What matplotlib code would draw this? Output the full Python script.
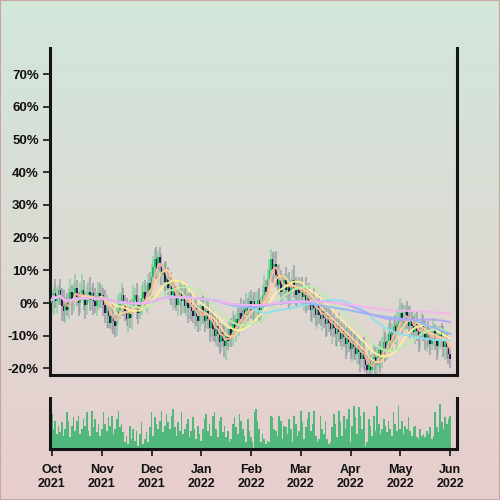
import numpy as np
import pandas as pd
import matplotlib
matplotlib.use("Agg")
import matplotlib.pyplot as plt
from matplotlib.colors import LinearSegmentedColormap

# ---- data (percent change of price, one bar per day) ----
close_oct = [1.0, 3.0, 0.5, 2.5, 4.0, 1.5, -1.0, -2.5, 0.0, -2.0, 1.0, 3.5, 1.0, 3.0, 4.5, 2.0, 0.0, 2.5, 4.0, 1.5,
             -0.5, 2.0, 3.5, 1.0, 3.0, 0.5, -1.0, 1.5, 3.0, 0.5]
close_nov = [2.5, -0.5, -3.0, -1.0, -4.0, -6.0, -3.5, -5.5, -7.0, -4.5, -2.0, 0.5, 2.5, -0.5, -2.5, -5.0, -2.5, -4.5, -1.5, 1.0,
             2.5, -0.5, -3.0, -0.5, 1.5, 3.5, 1.0, 3.5, 6.0, 4.0]
close_dec = [8.0, 11.0, 13.5, 10.5, 14.0, 11.5, 8.5, 10.0, 6.5, 8.0, 4.5, 6.0, 2.5, 4.5, 1.5, -0.5, 2.0, 3.5, 0.5, 2.5,
             -1.0, 1.0, -1.5, 0.5, -2.5, -4.0, -1.5, -4.0, -5.5, -3.0]
close_jan = [-1.0, -3.5, -5.5, -2.5, -5.0, -7.5, -5.0, -8.0, -10.0, -7.0, -9.5, -12.0, -9.0, -11.5, -13.0, -10.0, -11.5, -8.0, -10.0, -6.5,
             -8.0, -5.0, -6.5, -3.0, -5.0, -2.0, -3.5, -0.5, -2.5, 0.5]
close_feb = [-2.0, 0.5, -2.5, -0.5, 1.0, -2.0, 0.0, 2.5, 5.0, 3.5, 7.5, 10.0, 13.5, 10.5, 12.0, 8.5, 5.5, 7.0, 3.5, 5.5,
             7.0, 4.0, 6.0, 3.0, 5.5, 7.0, 4.5, 2.5, 5.0, 3.0]
close_mar = [4.5, 2.0, 3.5, 0.5, 2.5, 0.0, -2.0, 0.5, -1.5, -3.5, -1.0, -3.5, -5.0, -2.5, -4.5, -6.5, -4.0, -6.0, -8.0, -5.5,
             -7.5, -9.5, -7.0, -9.0, -11.0, -8.5, -10.5, -12.5, -10.0, -12.0]
close_apr = [-14.0, -11.5, -13.5, -15.5, -13.0, -15.0, -17.0, -14.5, -17.0, -19.0, -20.5, -18.0, -20.5, -18.5, -16.5, -19.0, -16.5, -14.5, -17.0, -14.0,
             -12.0, -14.5, -11.5, -9.5, -12.0, -9.0, -7.0, -9.5, -6.5, -4.5]
close_may = [-3.0, -6.0, -4.0, -2.5, -5.0, -7.0, -4.5, -7.0, -9.0, -6.5, -8.5, -10.5, -8.0, -6.5, -9.5, -11.0, -8.5, -10.5, -12.5, -10.0,
             -8.5, -11.0, -13.0, -10.5, -9.0, -11.5, -13.5, -11.0, -13.5, -15.5]
close_jun = [-17.0]

upper_wick = [
    3.0, 2.0, 4.5, 2.5, 1.5, 3.5, 3.0, 5.0, 2.0, 3.0, 3.5, 4.0, 2.0, 3.0, 4.5, 2.5, 1.5, 3.5, 5.0, 3.0, 2.0, 3.5, 3.0, 4.5, 2.0, 3.0, 4.0, 2.0, 3.5, 3.0,
    3.0, 2.0, 4.5, 3.5, 2.0, 3.0, 4.0, 3.0, 2.0, 3.5, 4.5, 3.0, 3.5, 2.0, 3.0, 4.0, 2.0, 3.5, 3.0, 4.5, 2.0, 3.5, 3.0, 2.0, 4.0, 3.0, 3.5, 2.0, 3.0, 3.5,
    4.0, 3.5, 3.0, 3.5, 2.0, 3.0, 3.5, 2.0, 3.0, 4.5, 3.0, 2.0, 3.5, 3.0, 2.0, 4.0, 3.0, 3.5, 2.0, 3.0, 3.5, 4.5, 2.0, 3.0, 3.5, 2.0, 4.0, 3.0, 3.5, 2.0,
    3.0, 3.5, 2.0, 4.5, 3.0, 2.0, 3.5, 3.0, 4.0, 2.0, 3.0, 3.5, 2.0, 3.0, 4.5, 3.5, 2.0, 3.0, 3.5, 4.0, 3.0, 2.0, 3.5, 3.0, 4.5, 2.0, 3.0, 3.5, 2.0, 3.0,
    3.5, 2.0, 3.0, 4.0, 3.0, 3.5, 2.0, 3.0, 3.5, 2.0, 3.0, 3.5, 3.0, 2.0, 3.5, 4.0, 3.0, 5.0, 3.0, 3.5, 2.0, 4.0, 3.0, 3.5, 2.0, 3.0, 4.5, 3.5, 2.0, 3.0,
    3.0, 3.5, 2.0, 4.5, 3.0, 3.5, 2.0, 3.0, 4.5, 3.0, 2.0, 3.5, 3.0, 4.0, 2.0, 3.0, 3.5, 3.0, 4.5, 2.0, 3.5, 3.0, 2.0, 4.0, 3.0, 3.5, 2.0, 3.0, 3.5, 3.0,
    3.5, 3.0, 2.0, 4.5, 3.0, 2.0, 3.5, 3.0, 4.0, 2.0, 3.0, 3.5, 2.0, 3.0, 4.5, 3.0, 3.5, 2.0, 3.0, 3.5, 4.0, 3.0, 2.0, 3.5, 5.0, 3.0, 2.0, 3.5, 4.5, 3.0,
    4.5, 3.0, 3.5, 2.0, 3.0, 4.0, 3.5, 2.0, 3.0, 3.5, 4.0, 2.0, 3.0, 3.5, 3.0, 4.5, 2.0, 3.0, 3.5, 3.0, 4.0, 2.0, 3.0, 3.5, 2.0, 3.0, 4.5, 3.0, 2.0, 3.0,
    2.0]
lower_wick = [
    3.0, 4.5, 2.0, 3.5, 3.0, 2.0, 4.5, 3.0, 3.5, 2.0, 3.0, 2.0, 4.5, 3.5, 2.0, 3.0, 4.0, 3.0, 2.0, 3.5, 4.5, 3.0, 2.0, 3.5, 3.0, 4.0, 2.0, 3.0, 3.5, 2.0,
    2.0, 3.5, 3.0, 4.5, 3.5, 2.0, 3.0, 4.0, 3.5, 3.0, 2.0, 3.0, 4.5, 3.5, 3.0, 2.0, 4.0, 3.0, 3.5, 2.0, 3.0, 4.5, 3.5, 2.0, 3.0, 3.5, 2.0, 4.0, 3.0, 2.0,
    3.0, 2.0, 3.5, 3.0, 4.5, 2.0, 3.0, 3.5, 4.0, 3.0, 2.0, 3.5, 3.0, 4.5, 3.0, 2.0, 3.5, 3.0, 4.0, 3.5, 2.0, 3.0, 4.5, 3.5, 3.0, 2.0, 4.0, 3.0, 3.5, 3.0,
    4.0, 3.0, 3.5, 2.0, 3.0, 4.5, 3.0, 3.5, 2.0, 3.0, 4.0, 3.5, 3.0, 2.0, 3.5, 4.5, 3.0, 2.0, 3.5, 3.0, 2.0, 4.0, 3.0, 3.5, 2.0, 3.0, 3.5, 4.5, 3.0, 2.0,
    3.0, 4.5, 3.5, 2.0, 3.0, 3.5, 4.0, 3.0, 2.0, 3.5, 3.0, 2.0, 3.5, 4.5, 3.0, 3.5, 2.0, 3.0, 4.0, 3.0, 3.5, 2.0, 3.0, 4.5, 3.5, 2.0, 3.0, 3.5, 4.0, 3.0,
    2.0, 3.0, 4.5, 3.5, 3.0, 2.0, 3.5, 4.0, 3.0, 3.5, 4.5, 3.0, 2.0, 3.5, 3.0, 4.0, 3.5, 3.0, 2.0, 4.5, 3.0, 3.5, 4.0, 3.0, 2.0, 3.5, 3.0, 4.5, 3.5, 3.0,
    3.0, 4.0, 3.5, 2.0, 3.0, 3.5, 4.0, 3.0, 3.5, 2.0, 3.0, 4.5, 3.0, 3.5, 2.0, 4.0, 3.0, 3.5, 4.5, 3.0, 2.0, 3.5, 3.0, 4.0, 2.0, 3.0, 3.5, 3.0, 4.5, 3.5,
    3.0, 3.5, 2.0, 4.5, 3.0, 3.5, 4.0, 3.0, 2.0, 3.5, 3.0, 4.5, 3.5, 3.0, 2.0, 3.5, 4.0, 3.0, 3.5, 2.0, 3.0, 3.5, 4.5, 3.0, 3.5, 2.0, 3.0, 4.0, 3.5, 3.0,
    3.0]

volume = [
    105, 60, 85, 45, 70, 50, 80, 40, 60, 110, 85, 35, 70, 95, 55, 85, 100, 45, 60, 90, 70, 110, 55, 40, 115, 65, 90, 50, 75, 40,
    60, 110, 75, 55, 95, 70, 100, 45, 60, 90, 115, 65, 75, 50, 20, 40, 15, 70, 30, 60, 25, 55, 10, 45, 80, 15, 30, 50, 20, 65,
    110, 40, 95, 75, 60, 85, 115, 50, 70, 105, 80, 60, 100, 120, 65, 40, 80, 55, 110, 45, 60, 75, 90, 35, 55, 95, 60, 30, 70, 45,
    25, 60, 90, 105, 55, 75, 40, 100, 110, 60, 35, 85, 95, 50, 70, 35, 55, 20, 30, 75, 95, 65, 45, 105, 85, 60, 40, 20, 90, 55,
    35, 20, 110, 120, 85, 60, 20, 45, 30, 15, 25, 20, 100, 95, 60, 55, 40, 100, 85, 30, 70, 65, 45, 90, 60, 20, 100, 75, 40, 55,
    115, 80, 30, 65, 90, 110, 55, 75, 115, 40, 20, 30, 100, 60, 45, 85, 30, 15, 20, 65, 105, 75, 35, 115, 80, 40, 100, 60, 90, 120,
    20, 70, 130, 95, 45, 125, 100, 60, 110, 10, 20, 90, 70, 40, 100, 55, 130, 75, 45, 60, 90, 70, 50, 85, 60, 40, 110, 75, 55, 130,
    60, 85, 45, 70, 60, 95, 55, 40, 65, 70, 35, 30, 60, 40, 45, 35, 55, 45, 65, 30, 40, 110, 65, 50, 135, 80, 60, 95, 75, 90,
    100]

month_labels = ["Oct\n2021", "Nov\n2021", "Dec\n2021", "Jan\n2022", "Feb\n2022",
                "Mar\n2022", "Apr\n2022", "May\n2022", "Jun\n2022"]
month_tick_pos = [0, 30, 60, 90, 120, 150, 180, 210, 240]
y_ticks = [-20, -10, 0, 10, 20, 30, 40, 50, 60, 70]

ma_windows = [5, 10, 20, 30, 60, 90, 120, 250]
ma_colors = ["#ffb4a2", "#ffd29a", "#fff09a", "#bdeeaa", "#8fe0f0", "#90b8f5", "#b4a6f5", "#f7b4ef"]

# ---- build OHLC ----
close = np.array(close_oct + close_nov + close_dec + close_jan + close_feb +
                 close_mar + close_apr + close_may + close_jun, dtype=float)
n = len(close)
x = np.arange(n)
open_ = np.concatenate([[0.0], close[:-1]])
high = np.maximum(open_, close) + np.array(upper_wick[:n])
low = np.minimum(open_, close) - np.array(lower_wick[:n])
up = close >= open_

plt.rcParams["font.family"] = ["Liberation Sans", "DejaVu Sans"]

fig = plt.figure(figsize=(5, 5), dpi=100)

# background gradient
bg = fig.add_axes([0, 0, 1, 1], zorder=-10)
grad = np.linspace(0, 1, 256).reshape(-1, 1)
cmap = LinearSegmentedColormap.from_list("bg", ["#d2e7da", "#dcdbd4", "#e8cdcd"])
bg.imshow(grad, aspect="auto", cmap=cmap, extent=[0, 1, 0, 1])
bg.axis("off")

spine_c = "#141414"
spine_w = 2.2

# ---- price panel ----
ax = fig.add_axes([0.1, 0.25, 0.814, 0.654])
ax.patch.set_alpha(0)

ax.vlines(x[up], low[up], high[up], color="#74cc96", lw=1.3, alpha=0.65, zorder=2)
ax.vlines(x[~up], low[~up], high[~up], color="#8c899c", lw=1.3, alpha=0.65, zorder=2)
body = close - open_
ax.bar(x[up], body[up], bottom=open_[up], width=0.9, color="#1fbe5c", zorder=3, linewidth=0)
ax.bar(x[~up], body[~up], bottom=open_[~up], width=0.9, color="#2a1d4c", zorder=3, linewidth=0)

s = pd.Series(close)
for w, col in zip(ma_windows, ma_colors):
    ax.plot(x, s.rolling(w, min_periods=1).mean(), color=col, lw=1.4, alpha=0.95, zorder=4)

ax.set_xlim(-1.2, 244.2)
ax.set_ylim(-22, 78)
ax.set_yticks(y_ticks)
ax.set_yticklabels([f"{v}%" for v in y_ticks], fontsize=9.5, fontweight="bold", color="#111111")
ax.set_xticks([])
ax.tick_params(axis="y", direction="out", length=5, width=1.2, pad=3, color=spine_c)
for side in ["left", "right", "bottom"]:
    ax.spines[side].set_linewidth(spine_w)
    ax.spines[side].set_color(spine_c)
ax.spines["top"].set_visible(False)

# ---- volume panel ----
axv = fig.add_axes([0.1, 0.102, 0.814, 0.102])
axv.patch.set_alpha(0)
axv.bar(x, volume[:n], width=1.0, color="#4fb87a", linewidth=0)
axv.set_xlim(-1.2, 244.2)
axv.set_ylim(0, 153)
axv.set_yticks([])
axv.set_xticks(month_tick_pos)
axv.set_xticklabels(month_labels, fontsize=9, fontweight="bold", color="#111111", linespacing=1.15)
axv.tick_params(axis="x", direction="out", length=5, width=1.2, pad=6, color=spine_c)
for side in ["left", "right", "bottom"]:
    axv.spines[side].set_linewidth(spine_w)
    axv.spines[side].set_color(spine_c)
axv.spines["top"].set_visible(False)

fig.add_artist(plt.Rectangle((0, 0), 1, 1, transform=fig.transFigure, fill=False,
                             edgecolor="#c7a79f", lw=1.5))

fig.savefig("out.png", dpi=100)
